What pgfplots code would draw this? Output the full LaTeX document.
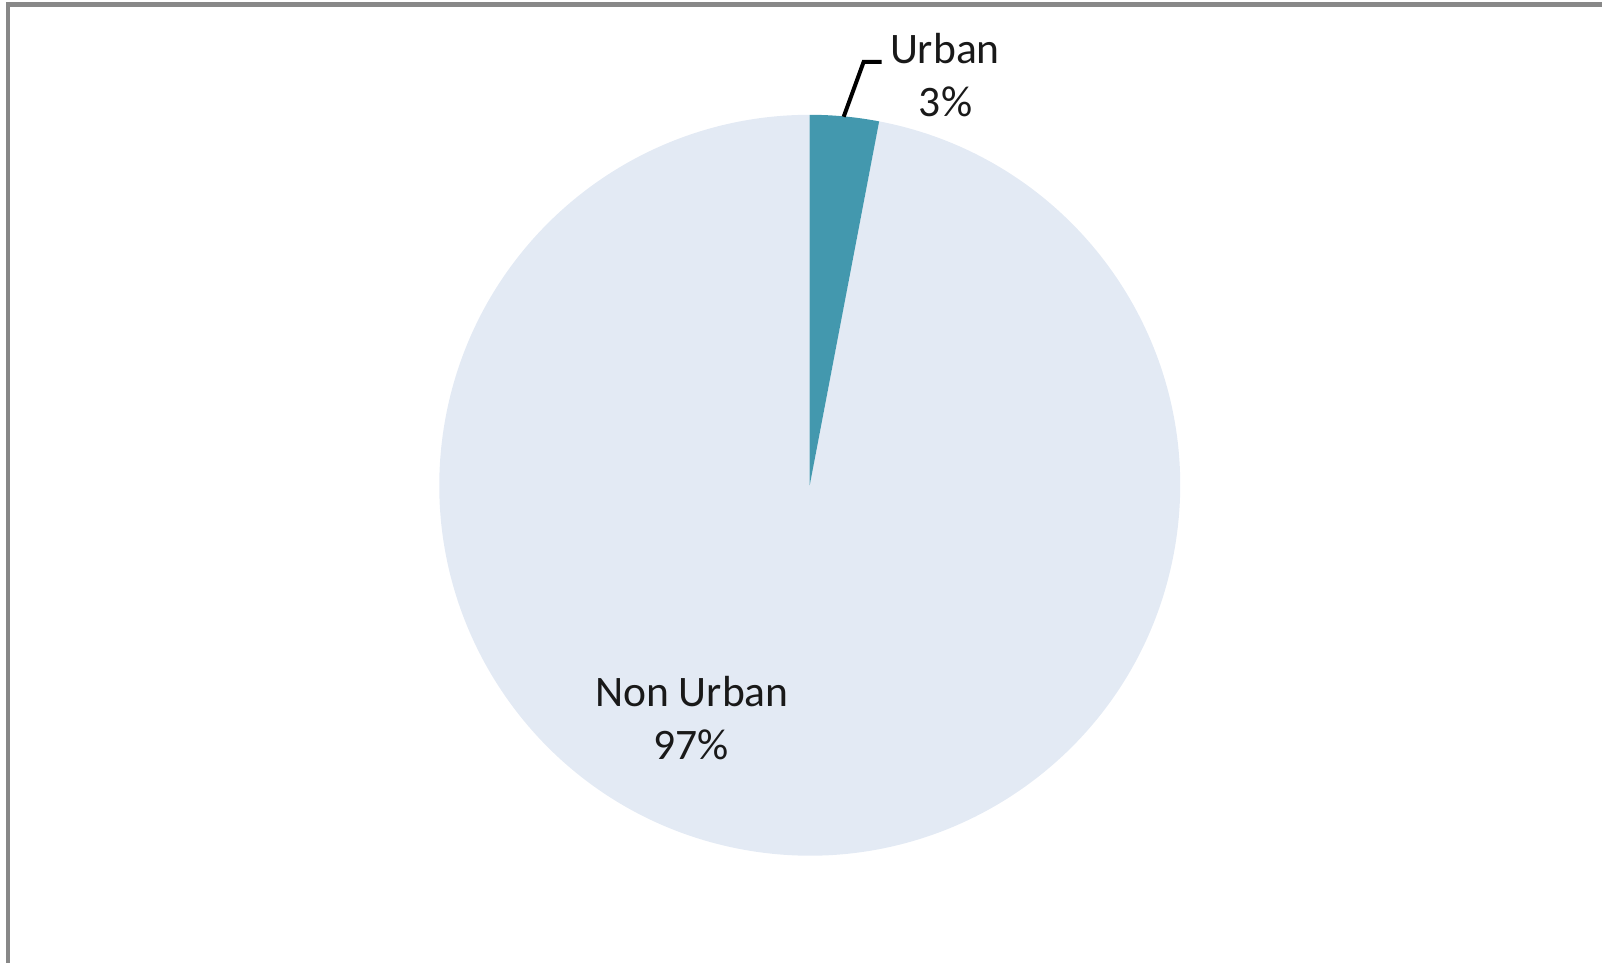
\documentclass[border=0pt]{standalone}
\usepackage{pgfplots}
\usepackage{pgfplotstable}
\pgfplotsset{compat=1.18}
\usepackage{fontspec}
\setmainfont{Carlito}
\definecolor{urbancol}{HTML}{4398AE}
\definecolor{noncol}{HTML}{E3EAF4}
\definecolor{framecol}{HTML}{888888}
\pgfplotstableread{
label share
Urban 3
NonUrban 97
}\piedata
\begin{document}
\begin{tikzpicture}
\pgfplotstablegetelem{0}{share}\of\piedata \let\urbanshare\pgfplotsretval
\pgfplotstablegetelem{1}{share}\of\piedata \let\nonshare\pgfplotsretval
\pgfmathsetmacro{\urbanangle}{\urbanshare*3.6}
\begin{axis}[
  scale only axis, width=802pt, height=482.5pt,
  xmin=0, xmax=1604, ymin=0, ymax=965,
  hide axis, clip=false,
]
\path (axis cs:0,0) rectangle (axis cs:1604,965);
% slices (radius 371 px = 185.5pt)
\fill[noncol] (axis cs:811,479) -- ++(90-\urbanangle:185.5pt)
  arc[start angle=90-\urbanangle, end angle=-270, radius=185.5pt] -- cycle;
\fill[urbancol] (axis cs:811,479) -- ++(90:185.5pt)
  arc[start angle=90, end angle=90-\urbanangle, radius=185.5pt] -- cycle;
% frame
\draw[framecol, line width=2.5pt] (axis cs:6,960.5) -- (axis cs:1604,960.5);
\draw[framecol, line width=2pt] (axis cs:8,963) -- (axis cs:8,0);
% leader
\draw[black, line width=2pt] (axis cs:845,848) -- (axis cs:865,903) -- (axis cs:883,903);
% labels
\node[anchor=base west, inner sep=0pt, font=\fontsize{21.8}{26}\selectfont, text=black!90] at (axis cs:891,901) {Urban};
\node[anchor=base, inner sep=0pt, font=\fontsize{21.8}{26}\selectfont, text=black!90] at (axis cs:947,848) {3\%};
\node[anchor=base, inner sep=0pt, font=\fontsize{21.8}{26}\selectfont, text=black!90] at (axis cs:693,257) {Non Urban};
\node[anchor=base, inner sep=0pt, font=\fontsize{21.8}{26}\selectfont, text=black!90] at (axis cs:692,204) {97\%};
\end{axis}
\end{tikzpicture}
\end{document}
